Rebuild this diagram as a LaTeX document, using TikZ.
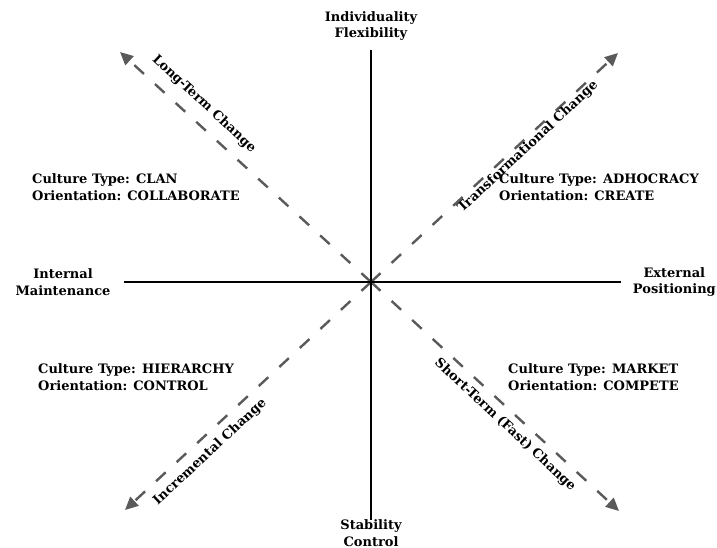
\documentclass[tikz,border=0pt]{standalone}
\usepackage{fontspec}
\setmainfont{DejaVu Serif}
\usetikzlibrary{arrows.meta, positioning}
\definecolor{changegray}{RGB}{90, 90, 90}

\begin{document}
\begin{tikzpicture}[
    x=1pt, y=-1pt,
    every node/.style={font=\fontsize{13}{16.5}\selectfont\bfseries, inner sep=0pt},
    axislabel/.style={align=center},
    culture/.style={align=left, anchor=west},
    axisline/.style={line width=2pt},
    changearrow/.style={draw=changegray, line width=2.4pt, dash pattern=on 13pt off 15pt,
                        -{Triangle[length=13pt, width=12pt]}},
]
\useasboundingbox (0,0) rectangle (717,548);

%% Eje central y extremos de los ejes
\coordinate (center) at (371,282);
\coordinate (top)    at (371,50);
\coordinate (bottom) at (371,520);
\coordinate (left)   at (124,282);
\coordinate (right)  at (621,282);

%% Extremos de las flechas diagonales
\coordinate (ul) at (120,52);
\coordinate (ur) at (618,53);
\coordinate (ll) at (125,510);
\coordinate (lr) at (619,511);

%% Etiquetas de los ejes
\node[axislabel] at (371,26)  (flex)  {Individuality\\Flexibility};
\node[axislabel] at (371,533) (stab)  {Stability\\Control};
\node[axislabel] at (63,282)  (intl)  {Internal\\Maintenance};
\node[axislabel, anchor=east] at (716,282) (extl) {External\\Positioning};

%% Tipos de cultura
\node[culture] at (32,187)  (clan)  {Culture Type: CLAN\\Orientation: COLLABORATE};
\node[culture] at (499,187) (adhoc) {Culture Type: ADHOCRACY\\Orientation: CREATE};
\node[culture] at (38,377)  (hier)  {Culture Type: HIERARCHY\\Orientation: CONTROL};
\node[culture] at (508,377) (mkt)   {Culture Type: MARKET\\Orientation: COMPETE};

%% Flechas de cambio
\draw[changearrow] (center) -- (ul);
\draw[changearrow] (center) -- (ur);
\draw[changearrow] (center) -- (ll);
\draw[changearrow] (center) -- (lr);

\node[rotate=-43] at (204,104) (longterm)  {Long-Term Change};
\node[rotate=43]  at (528,147) (transf)    {Transformational Change};
\node[rotate=43]  at (210,452) (increm)    {Incremental Change};
\node[rotate=-43] at (505,425) (shortterm) {Short-Term (Fast) Change};

%% Ejes
\draw[axisline] (top) -- (bottom);
\draw[axisline] (left) -- (right);

\end{tikzpicture}
\end{document}
